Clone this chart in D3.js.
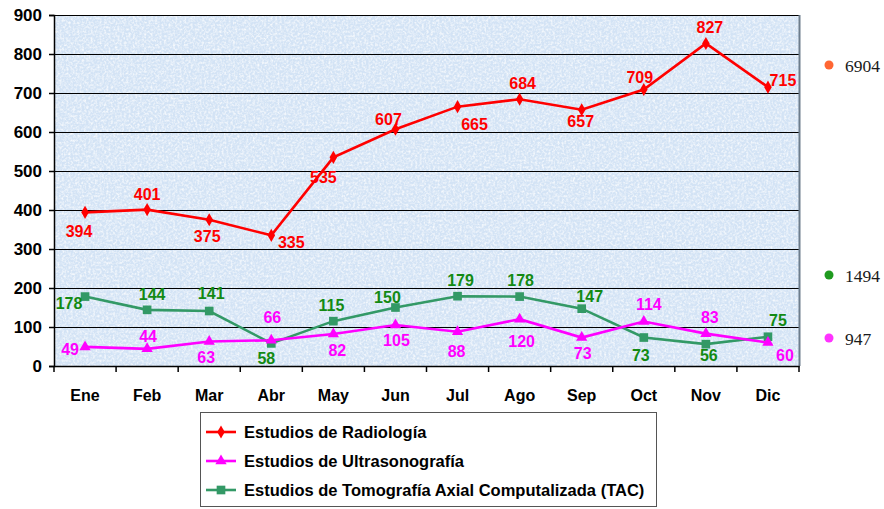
<!DOCTYPE html>
<html><head><meta charset="utf-8">
<script src="https://cdn.jsdelivr.net/npm/d3@7"></script>
<style>body{margin:0;background:#fff}svg{display:block}</style>
</head><body>
<script>
const months = ["Ene","Feb","Mar","Abr","May","Jun","Jul","Ago","Sep","Oct","Nov","Dic"];
const radiologia = [394,401,375,335,535,607,665,684,657,709,827,715];
const ultrasonografia = [49,44,63,66,82,105,88,120,73,114,83,60];
const tac = [178,144,141,58,115,150,179,178,147,73,56,75];
const yTicks = [0,100,200,300,400,500,600,700,800,900];
const seriesNames = ["Estudios de Radiología","Estudios de Ultrasonografía","Estudios de Tomografía Axial Computalizada (TAC)"];
// label offsets relative to each point (placement style)
const offRad = [[-6,19],[0,-16],[-2,16],[20,7],[-10,20],[-7,-10],[17,17],[3,-16],[-1,11],[-4,-12],[4,-16],[15,-7]];
const offUlt = [[-15,2],[1,-13],[-3,16],[1,-23],[4,16],[1,15],[-1,19],[2,22],[1,15],[5,-18],[4,-17],[17,12]];
const offTac = [[-16,6],[5,-16],[2,-18],[-5,15],[-2,-16],[-8,-11],[3,-16],[1,-17],[8,-13],[-3,17],[3,11],[10,-17]];

const W=884,H=509;
const svg=d3.select("body").append("svg").attr("width",W).attr("height",H);
const defs=svg.append("defs");
const f=defs.append("filter").attr("id","tex").attr("x",0).attr("y",0).attr("width","100%").attr("height","100%");
f.append("feTurbulence").attr("type","fractalNoise").attr("baseFrequency","0.45").attr("numOctaves",2).attr("seed",4);
f.append("feColorMatrix").attr("type","matrix").attr("values","0 0 0 0 1  0 0 0 0 1  0 0 0 0 1  2.2 0 0 0 -0.85");

const x=d3.scaleBand().domain(months).range([54,799]);
const y=d3.scaleLinear().domain([0,900]).range([366,15]);
const cx=m=>x(m)+x.bandwidth()/2;

// plot background
svg.append("rect").attr("x",54).attr("y",15).attr("width",745).attr("height",351).attr("fill","#d3e3f5");
svg.append("rect").attr("x",54).attr("y",15).attr("width",745).attr("height",351).attr("fill","#fff").attr("filter","url(#tex)").attr("opacity",0.8);

// gridlines
svg.append("g").selectAll("line").data(yTicks.filter(d=>d>0)).join("line")
 .attr("x1",54).attr("x2",799).attr("y1",d=>Math.round(y(d))+0.5).attr("y2",d=>Math.round(y(d))+0.5)
 .attr("stroke","#000").attr("stroke-width",1.2);
// right border
svg.append("line").attr("x1",799.5).attr("x2",799.5).attr("y1",15).attr("y2",366).attr("stroke","#6d7d8c").attr("stroke-width",2);

// y axis
const ya=svg.append("g").attr("transform","translate(54,0)").call(d3.axisLeft(y).tickValues(yTicks).tickSize(5).tickPadding(7));
ya.select(".domain").attr("stroke","#000").attr("stroke-width",1.5);
ya.selectAll(".tick line").attr("stroke","#000").attr("stroke-width",1.5);
ya.selectAll("text").attr("font-family","Liberation Sans, Arial, sans-serif").attr("font-weight","bold").attr("font-size",17).attr("fill","#000");

// x axis
const xa=svg.append("g").attr("transform","translate(0,366)").call(d3.axisBottom(x).tickSize(0).tickPadding(24));
xa.select(".domain").attr("stroke","#000").attr("stroke-width",1.5);
xa.selectAll("text").attr("font-family","Liberation Sans, Arial, sans-serif").attr("font-weight","bold").attr("font-size",16).attr("fill","#000");
svg.append("g").selectAll("line").data(d3.range(months.length+1)).join("line")
 .attr("x1",i=>54+i*x.bandwidth()).attr("x2",i=>54+i*x.bandwidth()).attr("y1",366).attr("y2",372)
 .attr("stroke","#000").attr("stroke-width",1.5);

const series=[
 {name:seriesNames[0],vals:radiologia,off:offRad,color:"#ff0000",lab:"#ff0000",shape:d3.symbolDiamond,size:50},
 {name:seriesNames[1],vals:ultrasonografia,off:offUlt,color:"#ff00ff",lab:"#ff00ff",shape:d3.symbolTriangle,size:55},
 {name:seriesNames[2],vals:tac,off:offTac,color:"#339966",lab:"#138a13",shape:d3.symbolSquare,size:75}
];
const line=d3.line().x((d,i)=>cx(months[i])).y(d=>y(d));
[series[2],series[1],series[0]].forEach(s=>{
 svg.append("path").attr("d",line(s.vals)).attr("fill","none").attr("stroke",s.color).attr("stroke-width",2.6);
 svg.append("g").selectAll("path").data(s.vals).join("path")
  .attr("d",d3.symbol().type(s.shape).size(s.size))
  .attr("transform",(d,i)=>`translate(${cx(months[i])},${y(d)})`).attr("fill",s.color);
});
series.forEach(s=>{
 svg.append("g").selectAll("text").data(s.vals).join("text")
  .attr("x",(d,i)=>cx(months[i])+s.off[i][0]).attr("y",(d,i)=>y(d)+s.off[i][1]+6)
  .attr("text-anchor","middle").attr("font-family","Liberation Sans Narrow, Arial Narrow, Liberation Sans, sans-serif")
  .attr("font-weight","bold").attr("font-size",16).attr("fill",s.lab).text(d=>d);
});

// totals on the right
const totals=[{v:d3.sum(radiologia),c:"#ff6633",y:65},{v:d3.sum(tac),c:"#1f9a1f",y:275},{v:d3.sum(ultrasonografia),c:"#ff33ff",y:338}];
const tg=svg.append("g").selectAll("g").data(totals).join("g");
tg.append("circle").attr("cx",829).attr("cy",d=>d.y).attr("r",4.5).attr("fill",d=>d.c);
tg.append("text").attr("x",845).attr("y",d=>d.y+7).attr("font-family","Liberation Serif, serif").attr("font-size",17.5).attr("fill","#1a1a1a").text(d=>d.v);

// legend
const lg=svg.append("g");
lg.append("rect").attr("x",200.5).attr("y",412.5).attr("width",456).attr("height",94).attr("fill","#fff").attr("stroke","#555").attr("stroke-width",1);
series.forEach((s,i)=>{
 const ly=432+i*29;
 lg.append("line").attr("x1",206).attr("x2",236).attr("y1",ly).attr("y2",ly).attr("stroke",s.color).attr("stroke-width",2.6);
 lg.append("path").attr("d",d3.symbol().type(s.shape).size(s.size)).attr("transform",`translate(221,${ly})`).attr("fill",s.color);
 lg.append("text").attr("x",244).attr("y",ly+6).attr("font-family","Liberation Sans, Arial, sans-serif").attr("font-weight","bold").attr("font-size",16.5).attr("fill","#000").text(s.name);
});
</script>
</body></html>
